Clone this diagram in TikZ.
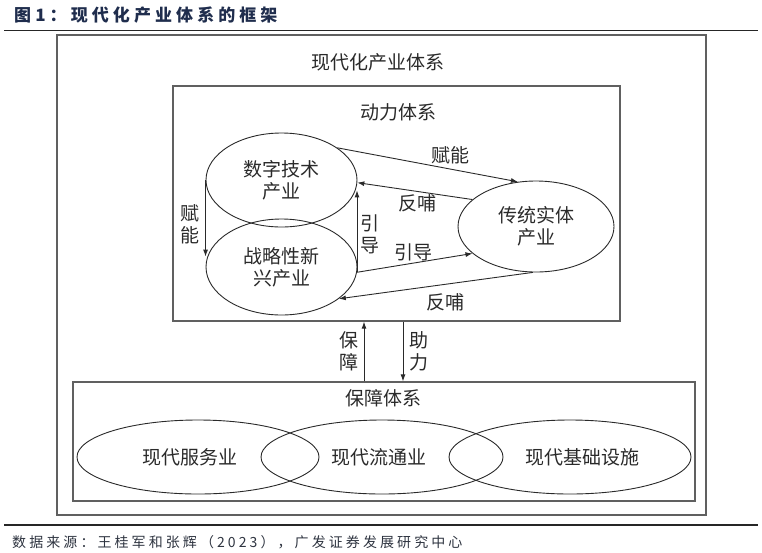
\documentclass[tikz,border=0pt]{standalone}
\usepackage{fontspec}
\setmainfont{Noto Sans CJK SC}
\newfontfamily\cjkmain{Noto Sans CJK SC}
\newfontfamily\cjkspaced[LetterSpace=24]{Noto Sans CJK SC}
\newfontfamily\cjkfoot[LetterSpace=22]{Noto Sans CJK SC}
\usetikzlibrary{shapes.geometric,arrows.meta,calc}
\definecolor{titleblue}{HTML}{1F2D4D}
\definecolor{footc}{HTML}{2E3440}
\definecolor{boxgray}{HTML}{606060}
\definecolor{linegray}{HTML}{2A2A2A}
\definecolor{txt}{HTML}{2A2A2A}
\newcommand{\dfont}{\cjkmain\fontsize{19}{22}\selectfont}
\newcommand{\ttlfont}{\cjkspaced\bfseries\fontsize{17}{20}\selectfont}
\newcommand{\srcfont}{\cjkfoot\fontsize{14}{17}\selectfont}
\begin{document}
\begin{tikzpicture}[x=1pt,y=-1pt,
  box/.style={draw=boxgray, line width=1.3pt, inner sep=0pt},
  ell/.style={ellipse, draw=linegray, line width=0.9pt, inner sep=0pt, align=center, font=\dfont, text=txt},
  arr/.style={-{Latex[length=7pt,width=5pt]}, draw=linegray, line width=0.9pt},
  lbl/.style={font=\dfont, text=txt, inner sep=0pt, align=center},
  rule/.style={line width=1.6pt, draw=black!85}
]
\useasboundingbox (0,0) rectangle (762,552);
% title and rules
\node[anchor=west, inner sep=0pt, font=\ttlfont, text=titleblue] (title) at (14,15) {图1：现代化产业体系的框架};
\coordinate (r1a) at (4,30.5);
\coordinate (r1b) at (758,30.5);
\draw[rule] (r1a) -- (r1b);
\coordinate (r2a) at (4,525);
\coordinate (r2b) at (758,525);
\draw[rule] (r2a) -- (r2b);
\node[anchor=west, inner sep=0pt, font=\srcfont, text=footc] (src) at (12,542) {数据来源：王桂军和张辉（2023），广发证券发展研究中心};
% boxes
\node[box, minimum width=649pt, minimum height=480pt] (outer) at (381.5,275) {};
\node[box, minimum width=447pt, minimum height=235pt] (inner) at (396.5,203.5) {};
\node[box, minimum width=622pt, minimum height=119pt] (bot) at (384,441.5) {};
\node[lbl] (tOuter) at (378,62) {现代化产业体系};
\node[lbl] (tInner) at (398,112) {动力体系};
\node[lbl] (tBot) at (383,398) {保障体系};
% dynamic system ellipses
\node[ell, minimum width=151pt, minimum height=94pt] (dt) at (281.5,180) {数字技术\\产业};
\node[ell, minimum width=151pt, minimum height=96pt] (sx) at (281.5,267) {战略性新\\兴产业};
\node[ell, minimum width=156pt, minimum height=91pt] (ct) at (536,226.5) {传统实体\\产业};
% arrows
\draw[arr] (dt.30) -- (ct.112);
\draw[arr] (ct.157) -- (dt.-2);
\draw[arr] (sx.-4) -- (ct.203);
\draw[arr] (ct.266) -- (sx.-29);
\draw[arr] (dt.west) -- (dt.west |- sx.172);
\draw[arr] (sx.-4) -- (sx.-4 |- dt.-8);
\node[lbl] (l1) at (450,155) {赋能};
\node[lbl] (l2) at (417,203) {反哺};
\node[lbl] (l3) at (413,252) {引导};
\node[lbl] (l4) at (445,302) {反哺};
\node[lbl] (l5) at (190,224) {赋\\能};
\node[lbl] (l6) at (370,234) {引\\导};
% between systems
\coordinate (ua) at (364,0);
\coordinate (da) at (403,0);
\draw[arr] (ua |- bot.north) -- (ua |- inner.south);
\draw[arr] (da |- inner.south) -- (da |- bot.north);
\node[lbl] (l7) at (349,351) {保\\障};
\node[lbl] (l8) at (419,351) {助\\力};
% support system ellipses
\node[ell, minimum width=242pt, minimum height=74pt] (e1) at (198,457) {现代服务业\hspace*{16pt}};
\node[ell, minimum width=242pt, minimum height=74pt] (e2) at (382,457) {现代流通业\hspace*{6pt}};
\node[ell, minimum width=242pt, minimum height=74pt] (e3) at (570,457) {\hspace*{24pt}现代基础设施};
\end{tikzpicture}
\end{document}
